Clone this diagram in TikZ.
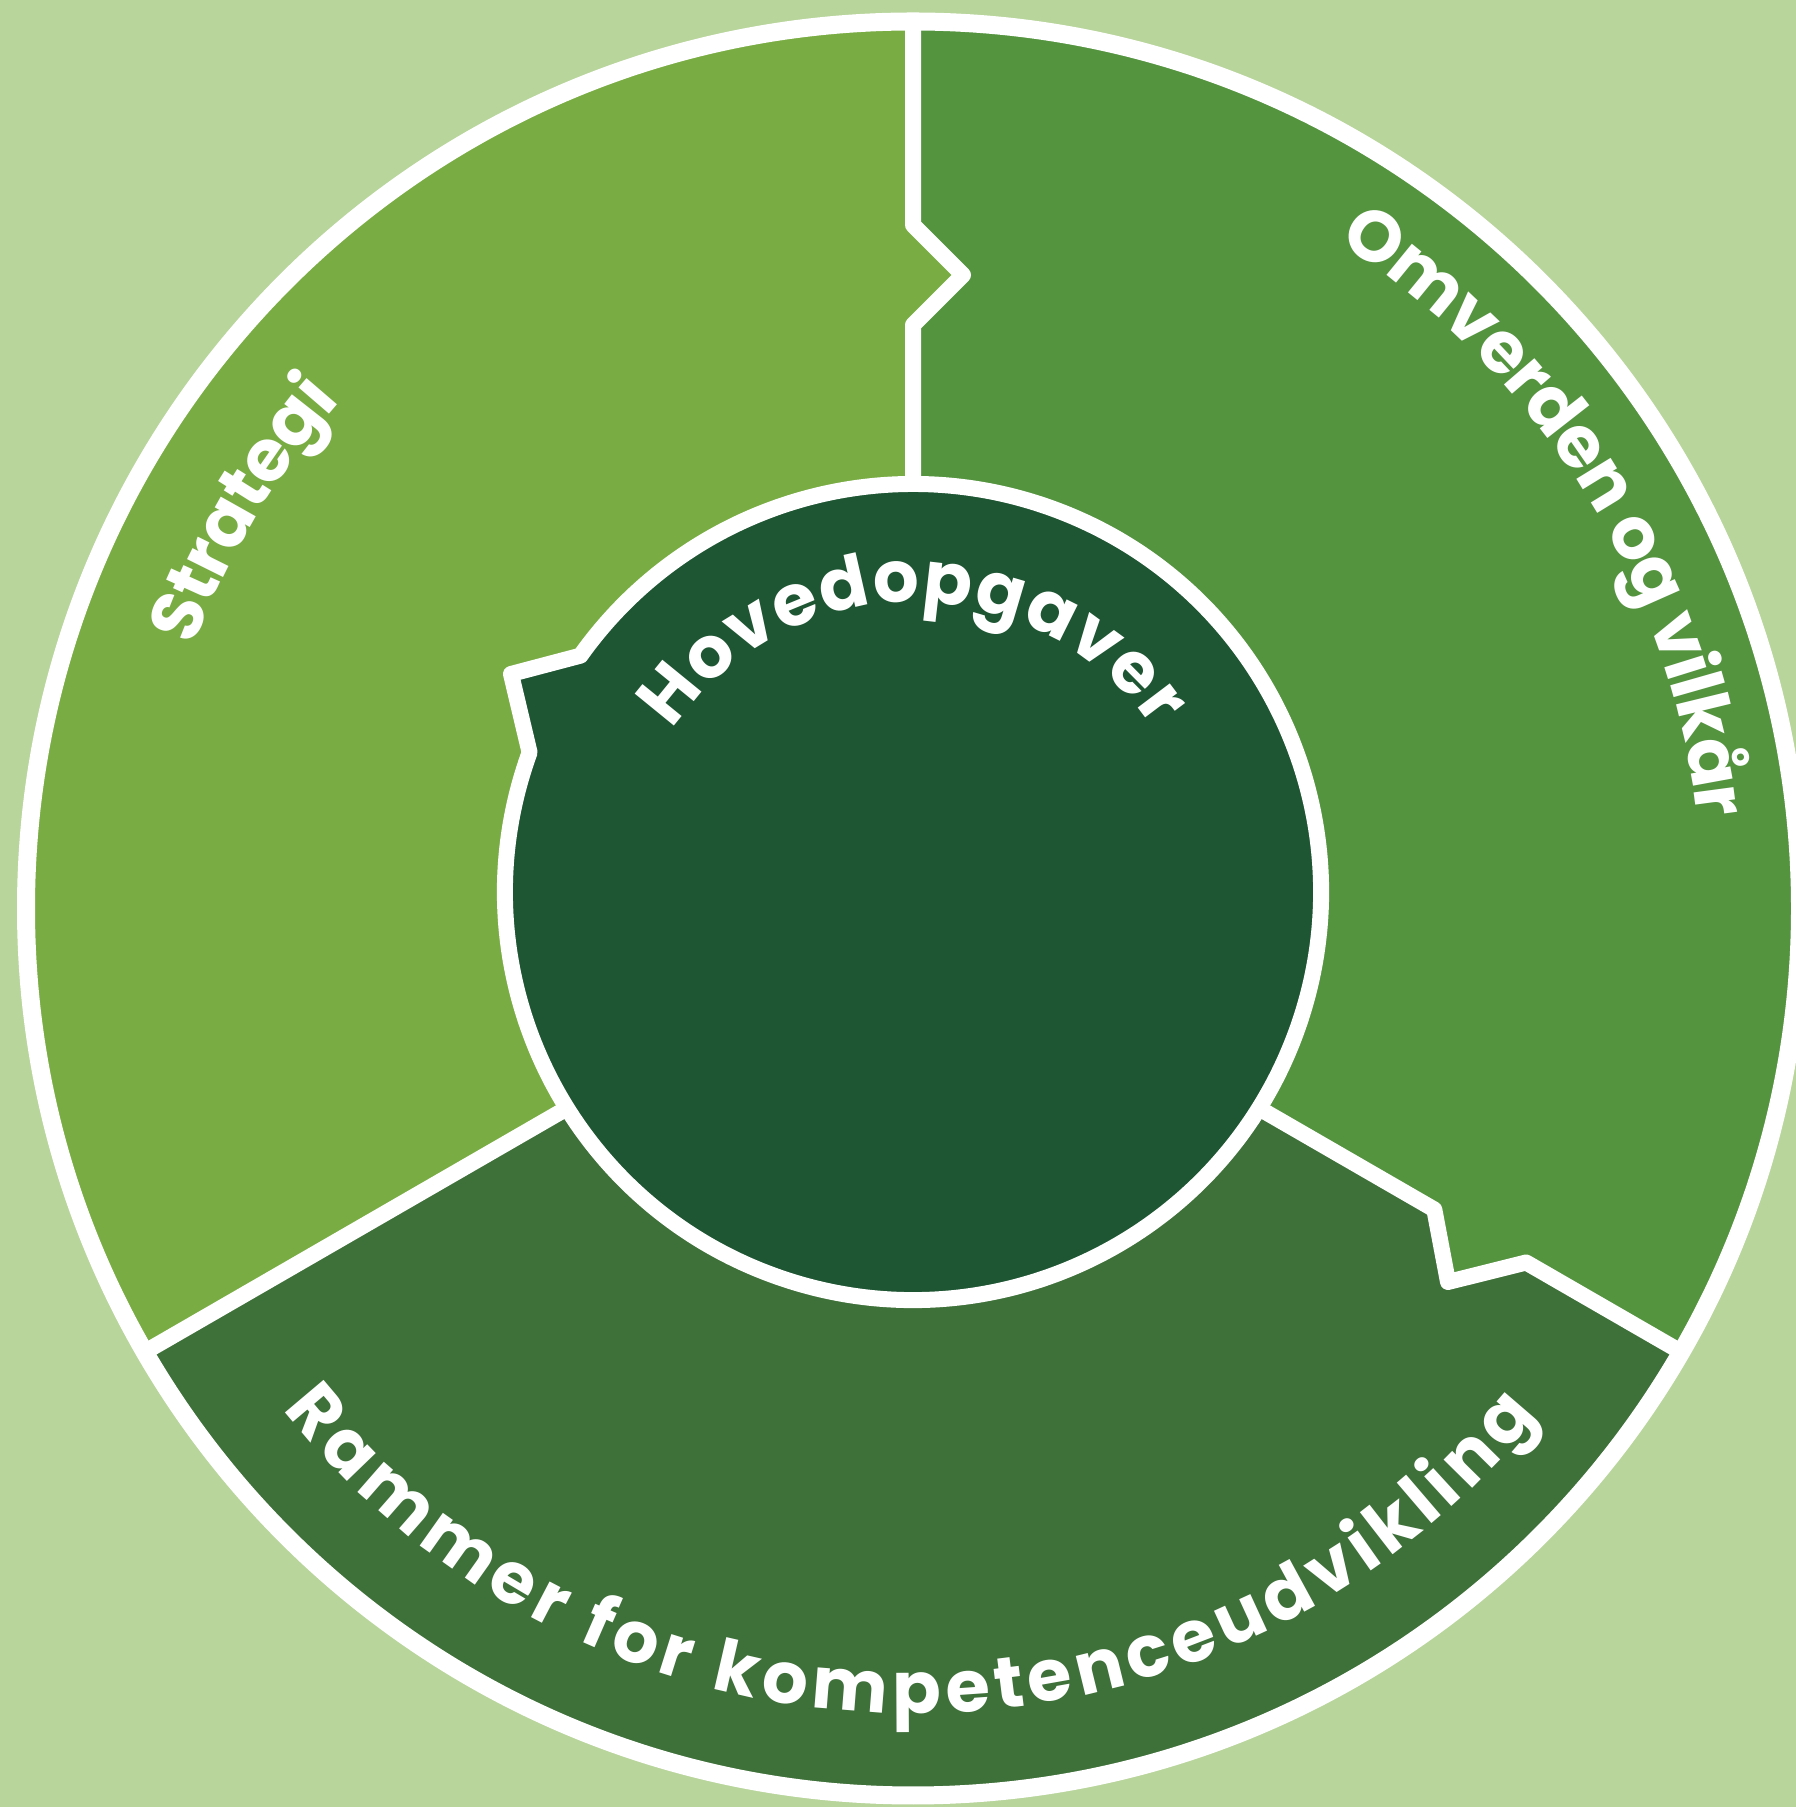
\documentclass[tikz,border=0pt]{standalone}
\usepackage{fontspec}
\newfontfamily\popfont{Poppins}
\definecolor{bgc}{HTML}{B8D59B}
\definecolor{strat}{HTML}{79AD43}
\definecolor{omv}{HTML}{54943F}
\definecolor{ram}{HTML}{3E7039}
\definecolor{hov}{HTML}{1E5532}
\newbox\atbox
\def\atfs{72}
\newcommand\atfont{\popfont\bfseries\fontsize{\atfs}{\atfs}\selectfont}
\makeatletter
\newcommand\atstore[1]{\setbox\atbox=\hbox{\atfont #1}\expandafter\xdef\csname atw@#1\endcsname{\strip@pt\wd\atbox}}
\makeatother
\newcommand\atstoreall{%
  \atstore{S}\atstore{t}\atstore{r}\atstore{a}\atstore{e}\atstore{g}\atstore{i}%
  \atstore{O}\atstore{m}\atstore{v}\atstore{d}\atstore{n}\atstore{o}\atstore{l}%
  \atstore{k}\atstore{å}\atstore{R}\atstore{f}\atstore{p}\atstore{c}\atstore{u}%
  \atstore{H}\atstore{\space}}
\newcommand\arctext[6]{% #1 centre, #2 baseline radius, #3 start angle, #4 end angle, #5 direction (-1 cw tops out, 1 ccw tops in), #6 characters
  \begingroup
  \gdef\atW{0}\gdef\atN{0}%
  \foreach \lch in {#6}{%
    \edef\atw{\csname atw@\lch\endcsname}%
    \pgfmathsetmacro\atT{\atW+\atw}\xdef\atW{\atT}%
    \pgfmathsetmacro\atT{\atN+1}\xdef\atN{\atT}%
  }%
  \pgfmathsetmacro\atL{(abs(#4-#3)*pi/180)*#2}%
  \pgfmathsetmacro\atTr{(\atL-\atW)/(\atN-1)}%
  \gdef\atS{0}%
  \foreach \lch in {#6}{%
    \edef\atw{\csname atw@\lch\endcsname}%
    \pgfmathsetmacro\atA{#3+(#5)*((\atS+\atw/2)/#2)*(180/pi)}%
    \pgfmathsetmacro\atR{\atA+(#5)*90}%
    \path (#1) ++(\atA:#2) node[lettr,rotate=\atR] {\lch};
    \pgfmathsetmacro\atT{\atS+\atw+\atTr}\xdef\atS{\atT}%
  }%
  \endgroup
}
\begin{document}
\atstoreall
\begin{tikzpicture}[x=1pt,y=1pt,
  divider/.style={draw=white,line width=16pt,line join=round},
  lettr/.style={anchor=base,inner sep=0pt,outer sep=0pt,text=white,font=\atfont}]
\useasboundingbox (0,0) rectangle (1796,1807);
\fill[bgc] (0,0) rectangle (1796,1807);
\coordinate (O) at (913,898.5);
\coordinate (I) at (913,915);
\coordinate (t1) at (913,1482);
\coordinate (t2) at (963,1532);
\coordinate (t3) at (913,1582);
\coordinate (tE) at (913,1785.5);
\coordinate (lE) at (144.8,455.0);
\coordinate (rE) at (1681.2,455.0);
\coordinate (p1) at (1434.3,597.5);
\coordinate (p2) at (1448,525);
\coordinate (p3) at (1526.1,544.5);
\coordinate (jB) at (511,1133);
\begin{scope}
  \clip (O) circle[radius=887];
  \fill[omv] (O) circle[radius=900];
  \fill[strat] (O) -- (t1) -- (t2) -- (t3) -- (913,1900) -- (-100,1900) -- (-100,313.6) -- cycle;
  \fill[ram] (O) -- (-100,313.6) -- (-100,-100) -- (1900,-100) -- (1900,328.7) -- (p3) -- (p2) -- (p1) -- cycle;
\end{scope}
\draw[divider] (I) -- (t1) -- (t2) -- (t3) -- (tE);
\draw[divider] (O) -- (lE);
\draw[divider] (O) -- (p1) -- (p2) -- (p3) -- (rE);
\path[fill=hov,draw=white,line width=16pt,line join=round]
  (I) ++(160:408) arc[start angle=160,end angle=504.6,radius=408] -- (jB) -- cycle;
\draw[white,line width=18pt] (O) circle[radius=887];
\arctext{O}{765}{160}{138.5}{-1}{S,t,r,a,t,e,g,i}
\arctext{O}{790}{57.5}{6.5}{-1}{O,m,v,e,r,d,e,n,\space,o,g,\space,v,i,l,k,å,r}
\arctext{O}{805}{218.5}{321}{1}{R,a,m,m,e,r,\space,f,o,r,\space,k,o,m,p,e,t,e,n,c,e,u,d,v,i,k,l,i,n,g}
\arctext{I}{290}{146}{34}{-1}{H,o,v,e,d,o,p,g,a,v,e,r}
\end{tikzpicture}
\end{document}
